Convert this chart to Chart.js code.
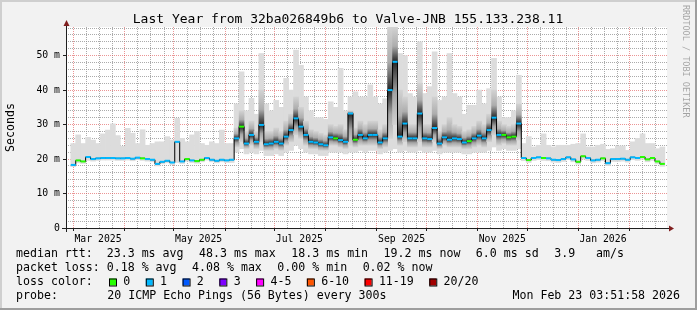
<!DOCTYPE html>
<html>
<head>
<meta charset="utf-8">
<script src="https://cdn.jsdelivr.net/npm/chart.js@4.4.1/dist/chart.umd.min.js"></script>
<style>
html, body { margin: 0; padding: 0; background: #f2f2f2; }
canvas { display: block; }
</style>
</head>
<body>
<canvas id="myChart" width="697" height="310"></canvas>
<script>
// days since 1 Mar 2025, one sample every 3 days
var days = [0,3,6,9,12,15,18,21,24,27,30,33,36,39,42,45,48,51,54,57,60,63,66,69,72,75,78,81,84,87,90,93,96,
    99,102,105,108,111,114,117,120,123,126,129,132,135,138,141,144,147,150,153,156,159,162,165,168,171,174,177,180,
    183,186,189,192,195,198,201,204,207,210,213,216,219,222,225,228,231,234,237,240,243,246,249,252,255,258,261,264,267,270,
    273,276,279,282,285,288,291,294,297,300,303,306,309,312,315,318,321,324,327,330,333,336,339,342,345,348,351,354,357];

// median rtt (ms)
var median = [18.3,19.6,19.3,20.6,20.0,20.2,20.3,20.3,20.3,20.2,20.2,20.3,20.1,20.4,20.2,20.0,19.8,18.6,19.2,19.5,
    19.0,25.0,19.3,20.0,19.6,19.4,19.8,20.3,19.8,19.5,19.8,19.6,19.8,
    26.0,29.4,24.5,27.0,25.0,29.9,24.3,24.5,25.0,24.5,26.5,28.4,31.8,29.4,27.0,25.0,24.8,24.3,24.0,26.3,
    26.0,25.5,25.0,33.2,25.6,27.0,26.0,27.0,27.0,24.8,26.0,40.0,48.2,26.5,30.3,26.0,26.0,33.2,26.0,25.8,
    29.0,24.5,26.3,25.6,26.0,25.8,24.8,25.2,26.0,26.8,26.0,28.4,32.0,27.0,27.0,26.3,26.5,30.3,
    20.3,19.7,20.3,20.5,20.3,20.2,19.8,19.7,20.0,20.5,19.9,19.2,20.8,20.3,19.6,19.8,20.2,18.8,20.0,20.0,
    20.1,19.8,20.5,20.3,20.6,19.9,20.3,19.3,18.6];

// top of the smoke (ms)
var smokeMax = [24.5,27.0,24.5,26.3,25.5,24.5,27.3,28.4,30.2,26.8,23.7,28.9,27.5,24.5,28.5,24.0,24.5,25.0,25.0,26.5,
    25.5,31.8,26.0,25.0,27.0,28.0,24.5,24.0,25.0,24.5,28.4,24.5,24.5,
    36.0,45.3,34.0,37.6,33.0,50.6,36.0,34.0,37.0,35.0,43.4,40.0,51.6,47.2,38.0,34.0,32.0,32.0,31.5,36.6,
    35.0,46.3,34.0,38.0,39.5,38.0,38.0,41.5,38.0,36.0,37.5,58.5,58.5,50.6,50.0,39.0,38.0,54.0,39.0,41.0,
    51.1,37.0,38.0,50.6,39.0,38.0,33.0,35.6,35.6,40.0,36.0,40.4,49.2,38.0,32.0,32.0,34.0,44.3,
    24.5,26.5,23.5,24.0,27.3,24.0,23.5,24.0,24.0,24.0,24.3,24.5,27.3,23.5,23.5,24.0,24.3,22.8,23.0,23.8,
    23.8,22.5,25.0,26.0,27.3,24.5,24.5,23.0,23.5];

// bottom of the smoke (ms)
var smokeMin = [17.8,18.9,18.7,19.6,19.4,19.6,19.7,19.7,19.7,19.6,19.6,19.7,19.5,19.8,19.6,19.4,19.2,18.0,18.6,18.9,
    18.4,19.0,18.7,19.4,19.0,18.8,19.2,19.7,19.2,18.9,19.2,19.0,19.0,
    22.0,23.0,21.5,22.0,21.5,22.5,21.0,21.0,21.5,21.0,22.0,22.5,24.0,23.0,22.0,21.5,21.5,21.0,21.0,22.0,
    22.0,22.0,21.5,22.0,22.0,22.5,22.0,22.5,22.5,21.5,22.0,22.5,23.0,22.0,22.5,22.0,22.0,22.5,22.0,22.0,
    22.5,21.5,22.0,22.0,22.0,22.0,21.5,21.5,22.0,22.0,22.0,22.5,23.5,22.5,23.0,22.5,22.5,23.0,
    19.5,19.0,19.6,19.8,19.6,19.5,19.1,19.0,19.3,19.8,19.2,18.5,20.0,19.6,18.9,19.1,19.5,18.1,19.3,19.3,
    19.4,19.1,19.8,19.6,19.9,19.2,19.6,18.6,17.9];

// dense smoke band, Jun - Nov only (starts at sample 33)
var coreStart = 33;
var coreLow = [23.5,25,23,24,23,25,22.5,22.5,23,22.5,24,25,27,26,24,23,23,22.5,22.5,24,
    24,23.5,23,24,23.5,24,24,24,24,23,23.5,26,30,24,25,23.5,23.5,25,23.5,23.5,
    25,23,24,23.5,23.5,23.5,23,23,23.5,24,23.5,25,27,24,24.5,24,24,25.5];
var coreHigh = [29,34,28,31,28,40,28,28,29,28,31,33,38,35,31,28.5,28,27.5,27,30,
    29.5,30,28.5,34,29,31,30,31,31,28.5,30,58.5,58.5,40,38,30,30,42,30,30,
    38,28,30,32,30,29.5,28,28.5,29.5,31,30,33,40,31,30,29.5,30,36];

// loss bucket per sample: 0 = none, 1 = one
var loss = [1,0,0,1,1,1,1,1,1,1,1,1,1,1,0,1,1,1,1,1,1,1,1,0,1,0,0,1,1,1,1,1,1,
    1,0,1,1,1,1,1,1,1,1,1,1,1,1,1,1,1,1,1,1,0,1,1,1,0,1,1,1,1,1,1,1,1,1,1,1,1,1,1,1,
    1,1,1,1,1,1,1,0,1,1,1,1,1,1,0,0,0,1,
    1,0,1,1,0,1,1,1,1,1,1,0,0,1,1,1,0,1,1,1,1,1,1,1,0,0,0,0,0];

var monthStarts = [0,31,61,92,122,153,184,214,245,275,306,337];
var monthLabels = { 15: 'Mar 2025', 76: 'May 2025', 137: 'Jul 2025', 199: 'Sep 2025', 260: 'Nov 2025', 321: 'Jan 2026' };
var yTickValues = [0,2,4,6,8,10,12,14,16,18,20,22,24,26,28,30,32,34,36,38,40,42,44,46,48,50,52,54,56,58];

var lossNames = ['0', '1', '2', '3', '4-5', '6-10', '11-19', '20/20'];
var lossColors = ['#26ff00', '#00b8ff', '#0059ff', '#7e00ff', '#ff00ff', '#ff5500', '#ff0000', '#a10000'];

var legendRtt = ['median rtt:  23.3 ms avg', '48.3 ms max', '18.3 ms min', '19.2 ms now', '6.0 ms sd', '3.9   am/s'];
var legendLoss = ['packet loss: 0.18 % avg', '4.08 % max', '0.00 % min', '0.02 % now'];

var xTicks = [];
monthStarts.forEach(function (m) {
    xTicks.push(m);
    [8, 16, 24].forEach(function (o) { if (m + o < 359) xTicks.push(m + o); });
});
Object.keys(monthLabels).forEach(function (k) { xTicks.push(+k); });
xTicks.sort(function (a, b) { return a - b; });

var mono = 'DejaVu Sans Mono';
var yMax = 58.3;

var smokePts = days.map(function (d, i) { return { x: d, y: [smokeMin[i], smokeMax[i]] }; });
var corePts = coreLow.map(function (lo, k) { return { x: days[coreStart + k], y: [lo, coreHigh[k]], i: coreStart + k }; });
var medianPts = days.map(function (d, i) { return { x: d, y: median[i] }; });

// smoke shading: darkest at the median, fading out to the light smoke
function coreFill(c) {
    var ch = c.chart;
    if (!ch.chartArea || !c.raw) return '#777';
    var ys = ch.scales.y, i = c.raw.i, k = i - coreStart;
    var top = ys.getPixelForValue(Math.min(coreHigh[k], yMax));
    var bot = ys.getPixelForValue(coreLow[k]);
    var mid = ys.getPixelForValue(median[i]);
    var f = Math.max(0.02, Math.min(0.98, (mid - top) / ((bot - top) || 1)));
    var g = ch.ctx.createLinearGradient(0, top, 0, bot);
    g.addColorStop(0, '#d2d2d2');
    g.addColorStop(f * 0.55, '#adadad');
    g.addColorStop(f, '#262626');
    g.addColorStop(f + (1 - f) * 0.5, '#a4a4a4');
    g.addColorStop(1, '#d2d2d2');
    return g;
}

var rrdFrame = {
    id: 'rrdFrame',
    beforeDraw: function (chart) {
        var c = chart.ctx, a = chart.chartArea, w = chart.width, h = chart.height;
        c.save();
        c.fillStyle = '#f2f2f2';
        c.fillRect(0, 0, w, h);
        c.fillStyle = '#cfcfcf';
        c.fillRect(0, 0, w, 2);
        c.fillRect(0, 0, 2, h);
        c.fillStyle = '#9e9e9e';
        c.fillRect(0, h - 2, w, 2);
        c.fillRect(w - 2, 0, 2, h);
        c.fillStyle = '#ffffff';
        c.fillRect(a.left, a.top, a.right - a.left, a.bottom - a.top);
        c.restore();
    },
    afterDraw: function (chart) {
        var c = chart.ctx, a = chart.chartArea;
        c.save();
        // axes with arrows
        c.strokeStyle = '#1f1f1f';
        c.lineWidth = 1;
        c.beginPath();
        c.moveTo(a.left + 0.5, 25);
        c.lineTo(a.left + 0.5, a.bottom + 4);
        c.moveTo(a.left - 4, a.bottom + 0.5);
        c.lineTo(a.right + 3, a.bottom + 0.5);
        c.stroke();
        c.fillStyle = '#801f1f';
        c.beginPath();
        c.moveTo(a.left + 0.5, 20);
        c.lineTo(a.left - 2.5, 26);
        c.lineTo(a.left + 3.5, 26);
        c.closePath();
        c.fill();
        c.beginPath();
        c.moveTo(a.right + 7, a.bottom + 0.5);
        c.lineTo(a.right + 2, a.bottom - 2.5);
        c.lineTo(a.right + 2, a.bottom + 3.5);
        c.closePath();
        c.fill();

        // title
        c.fillStyle = '#000';
        c.textBaseline = 'alphabetic';
        c.textAlign = 'center';
        c.font = '13px "' + mono + '"';
        c.fillText('Last Year from 32ba026849b6 to Valve-JNB 155.133.238.11', 348, 23);

        // watermark
        c.save();
        c.translate(685, 5);
        c.rotate(Math.PI / 2);
        c.textAlign = 'left';
        c.textBaseline = 'middle';
        c.font = '8.5px "' + mono + '"';
        c.fillStyle = 'rgba(0,0,0,0.33)';
        c.fillText('RRDTOOL / TOBI OETIKER', 0, 0);
        c.restore();

        // legend, rrdtool style: items separated by a fixed gap
        c.textAlign = 'left';
        c.font = '11.6px "' + mono + '"';
        c.fillStyle = '#000';
        var gap = 15.5;
        [[257, legendRtt], [271, legendLoss]].forEach(function (row) {
            var x = 16;
            row[1].forEach(function (t) {
                c.fillText(t, x, row[0]);
                x += c.measureText(t).width + gap;
            });
        });
        c.fillText('loss color:', 16, 285);
        c.fillText('probe:', 16, 299);
        c.fillText('20 ICMP Echo Pings (56 Bytes) every 300s', 107.3, 299);
        c.textAlign = 'right';
        c.fillText('Mon Feb 23 03:51:58 2026', 680, 299);
        c.textAlign = 'left';
        var bx = 109;
        lossNames.forEach(function (n, i) {
            c.fillStyle = lossColors[i];
            c.fillRect(bx, 278.5, 7, 7);
            c.strokeStyle = '#000';
            c.strokeRect(bx + 0.5, 279, 7, 7);
            c.fillStyle = '#000';
            c.fillText(n, bx + 14.3, 285);
            bx += 14.3 + c.measureText(n).width + gap;
        });
        c.restore();
    }
};

var ctx = document.getElementById('myChart').getContext('2d');
var myChart = new Chart(ctx, {
    type: 'bar',
    data: {
        datasets: [{
            type: 'line',
            label: 'median rtt',
            data: medianPts,
            order: 0,
            borderColor: '#000',
            borderWidth: 1,
            stepped: 'middle',
            fill: false,
            pointStyle: 'line',
            pointRadius: 2.5,
            pointBorderWidth: 2,
            pointBorderColor: function (c) { return lossColors[loss[c.dataIndex]]; },
            pointBackgroundColor: function (c) { return lossColors[loss[c.dataIndex]]; }
        }, {
            label: 'core',
            data: corePts,
            order: 1,
            grouped: false,
            barThickness: 5,
            borderWidth: 0,
            backgroundColor: coreFill
        }, {
            label: 'smoke',
            data: smokePts,
            order: 2,
            grouped: false,
            barThickness: 5,
            borderWidth: 0,
            backgroundColor: '#dcdcdc'
        }]
    },
    options: {
        responsive: false,
        animation: false,
        devicePixelRatio: 1,
        layout: { padding: { left: 0, right: 30, top: 27, bottom: 62 }, autoPadding: false },
        plugins: {
            legend: { display: false },
            title: { display: false },
            tooltip: { enabled: false }
        },
        scales: {
            x: {
                type: 'linear',
                min: -4.4,
                max: 359.8,
                bounds: 'data',
                offset: false,
                z: 1,
                afterBuildTicks: function (s) { s.ticks = xTicks.map(function (v) { return { value: v }; }); },
                afterFit: function (s) { s.height = 20; },
                ticks: {
                    autoSkip: false,
                    maxRotation: 0,
                    minRotation: 0,
                    padding: 3,
                    color: '#000',
                    font: { family: mono, size: 9.8 },
                    callback: function (v) { return monthLabels[v] || ''; }
                },
                grid: {
                    offset: false,
                    lineWidth: 1,
                    tickLength: 3,
                    color: function (c) {
                        var v = c.tick ? c.tick.value : 0;
                        if (monthLabels[v]) return 'rgba(0,0,0,0)';
                        if (monthStarts.indexOf(v) >= 0) return 'rgba(222,79,79,0.6)';
                        return 'rgba(143,143,143,0.75)';
                    },
                    tickColor: function (c) {
                        var v = c.tick ? c.tick.value : 0;
                        return monthStarts.indexOf(v) >= 0 ? '#1f1f1f' : 'rgba(0,0,0,0)';
                    }
                },
                border: { display: false, dash: [1, 1] }
            },
            y: {
                type: 'linear',
                min: 0,
                max: yMax,
                bounds: 'data',
                z: 1,
                afterBuildTicks: function (s) { s.ticks = yTickValues.map(function (v) { return { value: v }; }); },
                afterFit: function (s) { s.width = 66; },
                ticks: {
                    autoSkip: false,
                    padding: 3,
                    color: '#000',
                    font: { family: mono, size: 9.8 },
                    callback: function (v) { return v % 10 === 0 ? (v === 0 ? '0' : v + ' m') : ''; }
                },
                grid: {
                    lineWidth: 1,
                    tickLength: 3,
                    color: function (c) {
                        var v = c.tick ? c.tick.value : 0;
                        if (v === 0) return 'rgba(0,0,0,0)';
                        return v % 10 === 0 ? 'rgba(222,79,79,0.6)' : 'rgba(143,143,143,0.75)';
                    },
                    tickColor: function (c) {
                        var v = c.tick ? c.tick.value : 0;
                        return v % 10 === 0 ? '#1f1f1f' : 'rgba(0,0,0,0)';
                    }
                },
                border: { display: false, dash: [1, 1] },
                title: {
                    display: true,
                    text: 'Seconds',
                    color: '#000',
                    font: { family: mono, size: 11.6 },
                    padding: { top: 4, bottom: 0 }
                }
            }
        }
    },
    plugins: [rrdFrame]
});
</script>
</body>
</html>
